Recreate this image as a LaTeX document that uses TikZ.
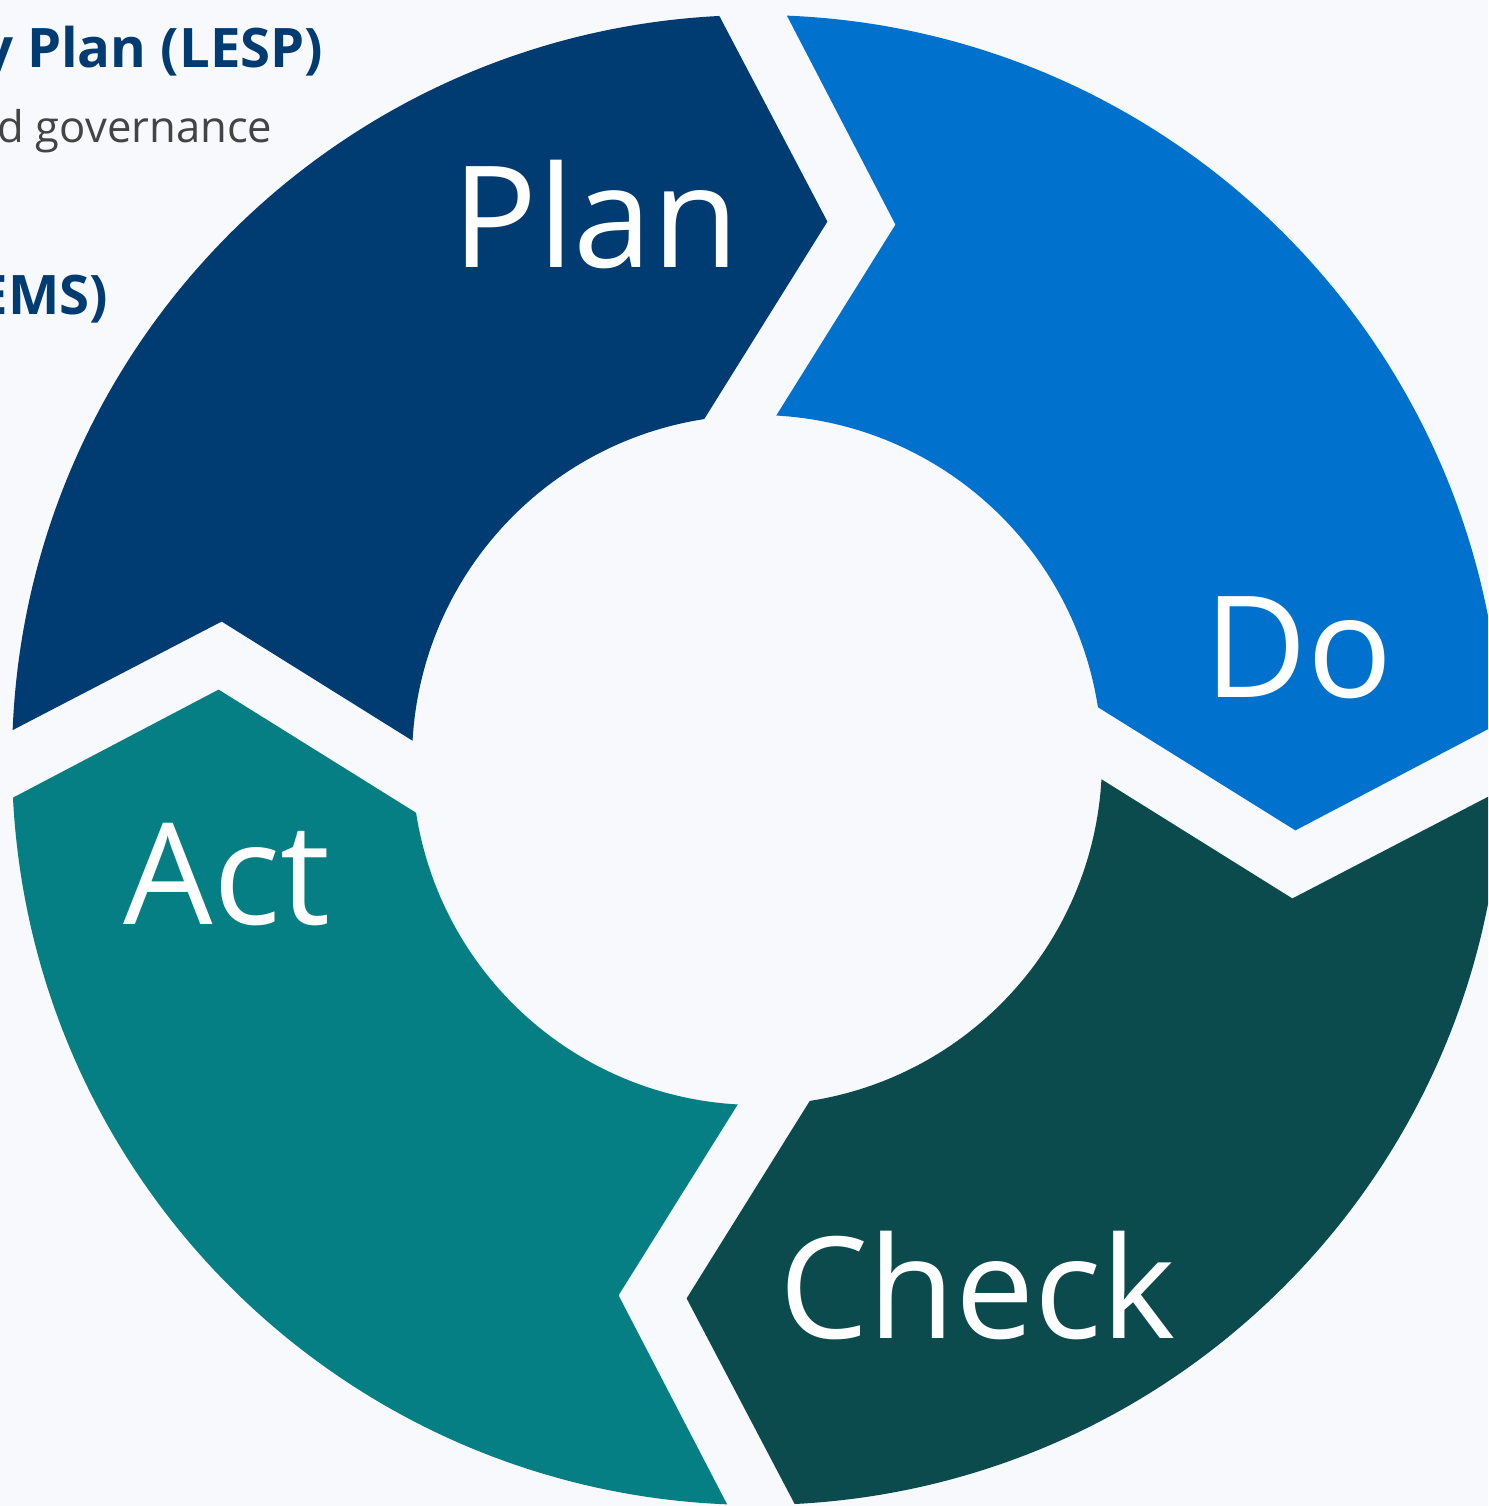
\documentclass[tikz,border=0pt]{standalone}
\usepackage{fontspec}
\setmainfont{Open Sans}
\definecolor{plannavy}{HTML}{003B71}
\definecolor{doblue}{HTML}{0072CE}
\definecolor{checkgreen}{HTML}{0C4B4D}
\definecolor{actteal}{HTML}{057F83}
\definecolor{pagebg}{HTML}{F7F9FC}
\definecolor{subgray}{HTML}{444444}
\tikzset{
	steplabel/.style={white, anchor=base, inner sep=0pt, font=\fontsize{40.2}{41}\selectfont},
	headline/.style={plannavy, anchor=base east, inner sep=0pt, font=\fontsize{15.5}{16}\selectfont\bfseries},
	subline/.style={subgray, anchor=base east, inner sep=0pt, font=\fontsize{12.4}{13}\selectfont}
}
\begin{document}
\begin{tikzpicture}
	\fill[pagebg] (0,0) rectangle (14.88,15.06);
	\useasboundingbox (0,0) rectangle (14.88,15.06);
	\clip (0,0) rectangle (14.88,15.06);
	% partly hidden heading text
	\node[headline] (lesp) at (3.24,14.38) {y Plan (LESP)};
	\node[subline] (gov) at (2.73,13.63) {d governance};
	\node[headline] (ems) at (1.09,11.91) {EMS)};
	% the four arrow segments of the cycle
	\begin{scope}[shift={(7.57,7.46)}]
	\fill[plannavy] (177.7:7.45) arc[start angle=177.7, end angle=92.9, radius=7.45] -- (82.55:5.43) -- (98.8:3.45) arc[start angle=98.8, end angle=176.8, radius=3.45] -- (165.5:5.53) -- cycle;
	\fill[doblue] (87.7:7.45) arc[start angle=87.7, end angle=2.9, radius=7.45] -- (-7.45:5.43) -- (8.8:3.45) arc[start angle=8.8, end angle=86.8, radius=3.45] -- (75.5:5.53) -- cycle;
	\fill[checkgreen] (-2.3:7.45) arc[start angle=-2.3, end angle=-87.1, radius=7.45] -- (-97.45:5.43) -- (-81.2:3.45) arc[start angle=-81.2, end angle=-3.2, radius=3.45] -- (-14.5:5.53) -- cycle;
	\fill[actteal] (-92.3:7.45) arc[start angle=-92.3, end angle=-177.1, radius=7.45] -- (-187.45:5.43) -- (-171.2:3.45) arc[start angle=-171.2, end angle=-93.2, radius=3.45] -- (-104.5:5.53) -- cycle;
	\end{scope}
	% step names
	\node[steplabel] (plan) at (5.96,12.38) {Plan};
	\node[steplabel] (do) at (12.99,8.08) {Do};
	\node[steplabel] (act) at (2.27,5.81) {Act};
	\node[steplabel] (check) at (9.775,1.68) {Check};
\end{tikzpicture}
\end{document}
